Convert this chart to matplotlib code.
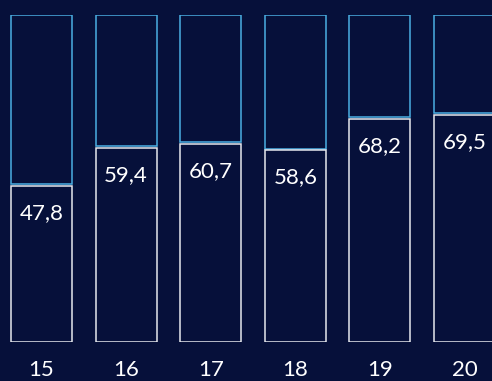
import matplotlib
matplotlib.use("Agg")
import matplotlib.pyplot as plt
import matplotlib.transforms as mtransforms
import numpy as np

# values (share of 100), one bar per year
years = ["15", "16", "17", "18", "19", "20"]
values = [47.8, 59.4, 60.7, 58.6, 68.2, 69.5]
total = 100

BG = "#06103A"
BLUE = "#4AAEE3"
WHITE = "#E6E8EE"

plt.rcParams["font.family"] = ["Lato", "DejaVu Sans"]

fig = plt.figure(figsize=(4.92, 3.81), dpi=100, facecolor=BG)
ax = fig.add_axes([0, 39 / 381, 1, 327 / 381])
ax.set_facecolor(BG)

x = np.arange(len(years))
w = 0.72
vals = np.array(values)
gap = 0.55

# remaining part of each bar, outlined in blue
ax.bar(x, total - vals - gap, w, bottom=vals + gap, facecolor=BG,
       edgecolor=BLUE, linewidth=1.1)
# measured part, outlined in white
ax.bar(x, vals, w, facecolor=BG, edgecolor=WHITE, linewidth=1.1)

for xi, v in zip(x, vals):
    ax.text(xi, v - 8.3, f"{v:.1f}".replace(".", ","), ha="center",
            va="center", color="white", fontsize=16)

# year labels under the bars
trans = mtransforms.blended_transform_factory(ax.transData, ax.transAxes)
for xi, yr in zip(x, years):
    ax.text(xi, -28 / 327, yr, transform=trans, ha="center", va="center",
            color="white", fontsize=16, clip_on=False)

ax.set_xlim(-41.5 / 84.6, (492 - 41.5) / 84.6)
ax.set_ylim(0, total)
ax.axis("off")

fig.savefig("out.png", dpi=100, facecolor=BG)
